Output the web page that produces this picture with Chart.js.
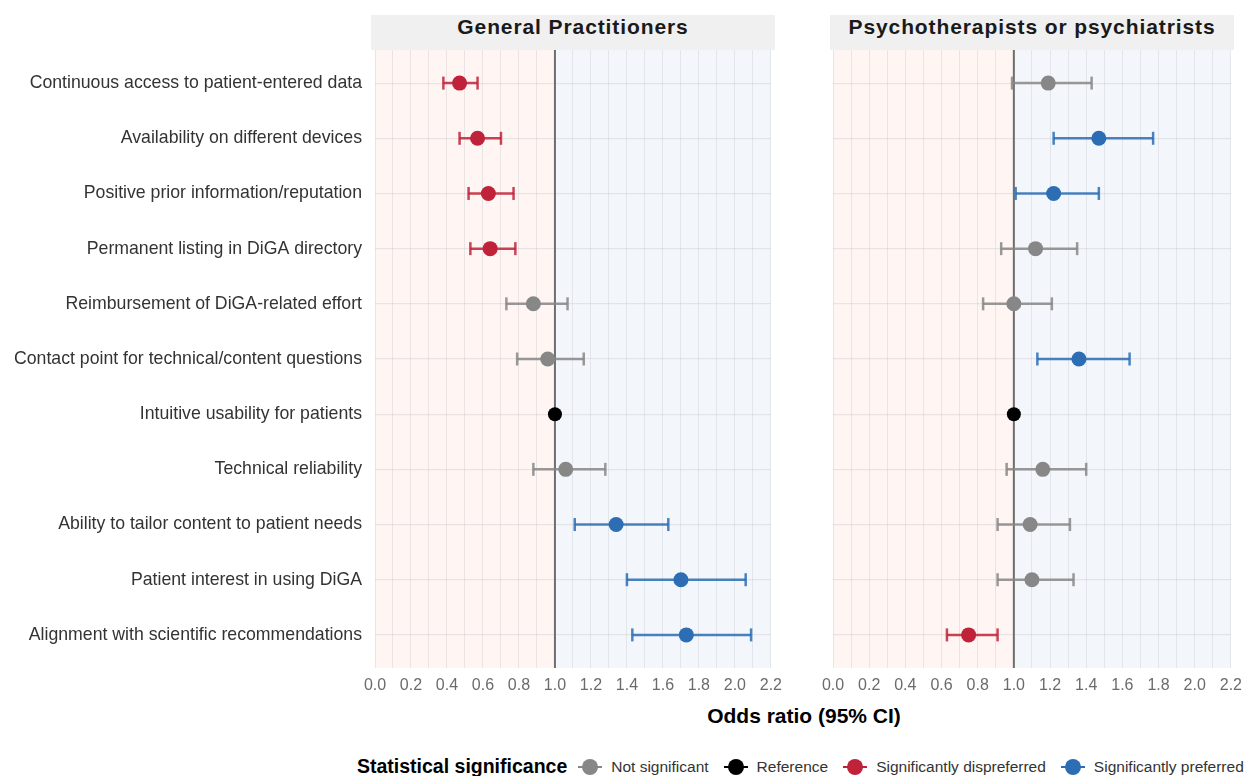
<!DOCTYPE html>
<html>
<head>
<meta charset="utf-8">
<script src="https://cdn.jsdelivr.net/npm/chart.js@4.4.0/dist/chart.umd.min.js"></script>
<style>
  body { margin: 0; background: #fff; font-family: "Liberation Sans", Arial, sans-serif; }
  #wrap { position: relative; width: 1250px; height: 776px; overflow: hidden; }
  canvas { position: absolute; top: 0; }
  .strip { position: absolute; top: 15px; height: 35px; background: #f0f0f0; color: #1a1a1a;
           font-weight: bold; font-size: 21px; letter-spacing: 0.9px; text-align: center; line-height: 24px; }
  #xtitle { position: absolute; top: 704px; left: 374px; width: 860px; text-align: center;
            font-weight: bold; font-size: 21px; color: #000; }
  #legend { position: absolute; top: 755px; left: 357px; width: 900px; display: flex; justify-content: flex-start;
            align-items: center; font-size: 15.5px; color: #333; white-space: nowrap; }
  #legend > span { flex-shrink: 0; }
  #legend .ttl { font-weight: bold; font-size: 19.5px; color: #000; margin-right: 11px; }
  #legend .key { position: relative; width: 24px; height: 18px; margin-right: 9px; }
  #legend .key i { position: absolute; left: 0; top: 8px; width: 24px; height: 2px; }
  #legend .key b { position: absolute; left: 4px; top: 1px; width: 16px; height: 16px; border-radius: 50%; }
  #legend .lab { margin-right: 15px; }
</style>
</head>
<body>
<div id="wrap">
  <canvas id="gp" width="790" height="700" style="left:0"></canvas>
  <canvas id="pt" width="460" height="700" style="left:790px"></canvas>
  <div class="strip" style="left:371px; width:404px;">General Practitioners</div>
  <div class="strip" style="left:830px; width:404px;">Psychotherapists or psychiatrists</div>
  <div id="xtitle">Odds ratio (95% CI)</div>
  <div id="legend"></div>
</div>
<script>
var attributes = [
  'Continuous access to patient-entered data',
  'Availability on different devices',
  'Positive prior information/reputation',
  'Permanent listing in DiGA directory',
  'Reimbursement of DiGA-related effort',
  'Contact point for technical/content questions',
  'Intuitive usability for patients',
  'Technical reliability',
  'Ability to tailor content to patient needs',
  'Patient interest in using DiGA',
  'Alignment with scientific recommendations'
];

var gpOR  = [0.47, 0.57, 0.63, 0.64, 0.88, 0.96, 1.00, 1.06, 1.34, 1.70, 1.73];
var gpLo  = [0.38, 0.47, 0.52, 0.53, 0.73, 0.79, null, 0.88, 1.11, 1.40, 1.43];
var gpHi  = [0.57, 0.70, 0.77, 0.78, 1.07, 1.16, null, 1.28, 1.63, 2.06, 2.09];
var gpSig = ['dis', 'dis', 'dis', 'dis', 'ns', 'ns', 'ref', 'ns', 'pref', 'pref', 'pref'];

var ptOR  = [1.19, 1.47, 1.22, 1.12, 1.00, 1.36, 1.00, 1.16, 1.09, 1.10, 0.75];
var ptLo  = [0.99, 1.22, 1.01, 0.93, 0.83, 1.13, null, 0.96, 0.91, 0.91, 0.63];
var ptHi  = [1.43, 1.77, 1.47, 1.35, 1.21, 1.64, null, 1.40, 1.31, 1.33, 0.91];
var ptSig = ['ns', 'pref', 'pref', 'ns', 'ns', 'pref', 'ref', 'ns', 'ns', 'ns', 'dis'];

var sigKeys   = ['ns', 'ref', 'dis', 'pref'];
var sigLabels = ['Not significant', 'Reference', 'Significantly dispreferred', 'Significantly preferred'];
var sigColors = { ns: '#878787', ref: '#000000', dis: '#c0223a', pref: '#2c6db4' };
var barColors = { ns: 'rgba(135,135,135,0.85)', ref: '#000000', dis: 'rgba(192,34,58,0.85)', pref: 'rgba(44,109,180,0.85)' };

var FONT = '"Liberation Sans", Arial, sans-serif';

var panelBg = {
  id: 'panelBg',
  beforeDraw: function (chart) {
    var c = chart.ctx, a = chart.chartArea, x = chart.scales.x;
    var p0 = x.getPixelForValue(0), p1 = x.getPixelForValue(1), p2 = x.getPixelForValue(2.2);
    c.save();
    c.fillStyle = '#fff5f2';
    c.fillRect(p0, a.top, p1 - p0, a.bottom - a.top);
    c.fillStyle = '#f3f7fc';
    c.fillRect(p1, a.top, p2 - p1, a.bottom - a.top);
    c.restore();
  },
  beforeDatasetsDraw: function (chart) {
    var c = chart.ctx, a = chart.chartArea, px = chart.scales.x.getPixelForValue(1);
    c.save();
    c.strokeStyle = '#6e6e6e';
    c.lineWidth = 2;
    c.beginPath();
    c.moveTo(px, a.top);
    c.lineTo(px, a.bottom);
    c.stroke();
    c.restore();
  }
};

function makePanel(id, or, lo, hi, sig, showLabels, yWidth, padRight) {
  var datasets = [];
  for (var i = 0; i < or.length; i++) {
    if (lo[i] === null) continue;
    datasets.push({
      data: [{ x: lo[i], y: i }, { x: hi[i], y: i }],
      showLine: true,
      borderColor: barColors[sig[i]],
      borderWidth: 2.5,
      pointStyle: 'line',
      rotation: 90,
      pointRadius: 6.5,
      pointBorderWidth: 2.5,
      pointBorderColor: barColors[sig[i]],
      order: 2
    });
  }
  datasets.push({
    data: or.map(function (v, i) { return { x: v, y: i }; }),
    pointRadius: or.map(function (v, i) { return sig[i] === 'ref' ? 7 : 7.5; }),
    pointBackgroundColor: sig.map(function (s) { return sigColors[s]; }),
    pointBorderWidth: 0,
    order: 1
  });

  return new Chart(document.getElementById(id), {
    type: 'scatter',
    data: { datasets: datasets },
    plugins: [panelBg],
    options: {
      responsive: false,
      animation: false,
      devicePixelRatio: 1,
      layout: { padding: { top: 50, right: padRight, left: 0, bottom: 0 } },
      plugins: { legend: { display: false }, tooltip: { enabled: false } },
      scales: {
        x: {
          type: 'linear', min: 0, max: 2.2,
          afterFit: function (s) { s.height = 32; },
          afterBuildTicks: function (s) {
            var t = [];
            for (var k = 0; k <= 22; k++) t.push({ value: k / 10 });
            s.ticks = t;
          },
          ticks: {
            autoSkip: false, maxRotation: 0, padding: 8,
            color: '#6b6b6b', font: { family: FONT, size: 16 },
            callback: function (v) { return Math.round(v * 10) % 2 === 0 ? v.toFixed(1) : ''; }
          },
          grid: { color: 'rgba(190,190,200,0.3)', lineWidth: 1, drawTicks: false },
          border: { display: false }
        },
        y: {
          type: 'linear', min: -0.6, max: 10.6, reverse: true,
          afterFit: function (s) { s.width = yWidth; },
          afterBuildTicks: function (s) {
            s.ticks = attributes.map(function (a, i) { return { value: i }; });
          },
          ticks: {
            display: showLabels, autoSkip: false, padding: 13,
            color: '#333333', font: { family: FONT, size: 17.7 },
            callback: function (v) { return attributes[v]; }
          },
          grid: { color: 'rgba(200,200,205,0.4)', lineWidth: 1.2, drawTicks: false },
          border: { display: false }
        }
      }
    }
  });
}

makePanel('gp', gpOR, gpLo, gpHi, gpSig, true, 375, 13);
makePanel('pt', ptOR, ptLo, ptHi, ptSig, false, 43, 16);

var leg = document.getElementById('legend');
var html = '<span class="ttl">Statistical significance</span>';
sigKeys.forEach(function (k, i) {
  html += '<span class="key"><i style="background:' + sigColors[k] + '"></i><b style="background:' + sigColors[k] + '"></b></span>' +
          '<span class="lab">' + sigLabels[i] + '</span>';
});
leg.innerHTML = html;
</script>
</body>
</html>
